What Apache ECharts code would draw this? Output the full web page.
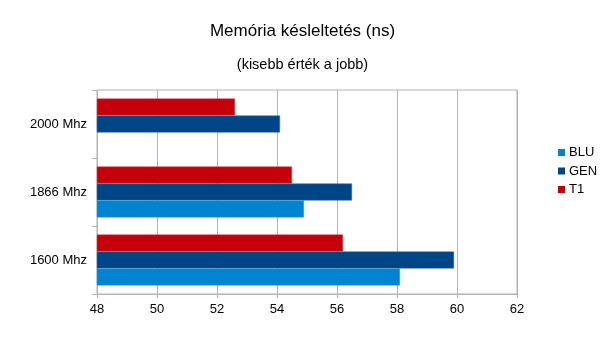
<!DOCTYPE html>
<html>
<head>
<meta charset="utf-8">
<script src="https://cdn.jsdelivr.net/npm/echarts@6/dist/echarts.min.js"></script>
<style>
  html, body { margin: 0; padding: 0; background: #fff; }
  #chart { width: 605px; height: 340px; }
</style>
</head>
<body>
<div id="chart"></div>
<script>
// Memory latency per memory clock (ns), lower is better
const categories = ['1600 Mhz', '1866 Mhz', '2000 Mhz'];
const legendNames = ['BLU', 'GEN', 'T1'];
const bluValues = [58.1, 54.9, null];
const genValues = [59.9, 56.5, 54.1];
const t1Values = [56.2, 54.5, 52.6];
const xTicks = { min: 48, max: 62, interval: 2 };

const font = '"Liberation Sans", Arial, sans-serif';
const gridColor = '#b3b3b3';

// Series listed top-to-bottom within each category band
const seriesDefs = [
  { name: 'T1', data: t1Values, color: '#c5000b', edge: '#d84048' },
  { name: 'GEN', data: genValues, color: '#004586', edge: '#3a6b9f' },
  { name: 'BLU', data: bluValues, color: '#0084d1', edge: '#3a9fdb' }
];

const chart = echarts.init(document.getElementById('chart'), null, { renderer: 'canvas' });

chart.setOption({
  animation: false,
  backgroundColor: '#ffffff',
  title: {
    text: 'Memória késleltetés (ns)',
    subtext: '(kisebb érték a jobb)',
    left: 'center',
    top: 18,
    itemGap: 17,
    textStyle: { fontFamily: font, fontSize: 17, fontWeight: 'normal', color: '#000' },
    subtextStyle: { fontFamily: font, fontSize: 14.5, color: '#000' }
  },
  legend: {
    orient: 'vertical',
    left: 553,
    top: 141,
    itemWidth: 7,
    itemHeight: 7,
    itemGap: 5.5,
    icon: 'rect',
    data: legendNames,
    itemStyle: { borderWidth: 0 },
    textStyle: { fontFamily: font, fontSize: 13, color: '#000', padding: [0, 0, 0, -1] }
  },
  grid: {
    left: 97,
    right: 88,
    top: 90,
    bottom: 46,
    show: true,
    borderColor: gridColor,
    borderWidth: 1
  },
  xAxis: {
    type: 'value',
    min: xTicks.min,
    max: xTicks.max,
    interval: xTicks.interval,
    axisLine: { show: true, lineStyle: { color: gridColor } },
    axisTick: { show: true, length: 4, lineStyle: { color: gridColor } },
    splitLine: { show: true, lineStyle: { color: gridColor } },
    axisLabel: { fontFamily: font, fontSize: 13, color: '#000', margin: 9 }
  },
  yAxis: {
    type: 'category',
    data: categories,
    axisLine: { show: true, lineStyle: { color: gridColor } },
    axisTick: { show: true, length: 5, lineStyle: { color: gridColor } },
    splitLine: { show: false },
    axisLabel: { fontFamily: font, fontSize: 13, color: '#000', margin: 10 }
  },
  series: seriesDefs.map(s => ({
    name: s.name,
    type: 'bar',
    data: s.data,
    barGap: '0%',
    barCategoryGap: '25%',
    itemStyle: { color: s.color, borderColor: s.edge, borderWidth: 0.5 }
  }))
});
</script>
</body>
</html>
